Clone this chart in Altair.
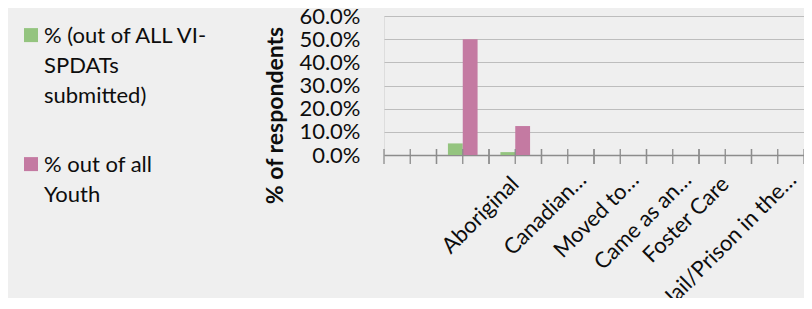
import altair as alt
import pandas as pd

# ---- data ----
categories = ["", " ", "Aboriginal", "Canadian…", "Moved to…", "Came as an…",
              "Foster Care", "Jail/Prison in the…"]
series_names = ["% (out of ALL VI-SPDATs submitted)", "% out of all Youth"]
pct_all_vispdats = [0.0, 0.05, 0.0125, 0.0, 0.0, 0.0, 0.0, 0.0]
pct_all_youth = [0.0, 0.50, 0.125, 0.0, 0.0, 0.0, 0.0, 0.0]
y_tick_values = [0.0, 0.1, 0.2, 0.3, 0.4, 0.5, 0.6]
series_colors = ["#94C47F", "#C47AA2"]

rows = []
for i, c in enumerate(categories):
    rows.append({"category": c, "series": series_names[0], "value": pct_all_vispdats[i]})
    rows.append({"category": c, "series": series_names[1], "value": pct_all_youth[i]})
df = pd.DataFrame(rows)
cat_df = pd.DataFrame({"category": categories})

FONT = "Lato"
TXT = "#0D0D0D"
AXIS_GRAY = "#8C8C8C"
W, H = 420, 139
FS = 22

truncated = "indexof(datum.label, '…') >= 0"

x_scale = alt.Scale(domain=categories, paddingInner=0, paddingOuter=0)
x_axis = alt.Axis(title=None, labelAngle=-45, labelAlign="right",
                  labelBaseline="middle",
                  labelPadding={"condition": {"test": truncated, "value": 21}, "value": 25},
                  labelOffset={"condition": {"test": truncated, "value": 15}, "value": 0},
                  labelFont=FONT, labelFontSize=FS, labelColor=TXT,
                  labelOverlap=False, labelLimit=0,
                  ticks=False, domain=True, domainColor=AXIS_GRAY,
                  domainWidth=1.3, grid=False)

bars = alt.Chart(df).mark_bar().encode(
    x=alt.X("category:N", sort=categories, scale=x_scale, axis=x_axis),
    xOffset=alt.XOffset("series:N", sort=series_names,
                        scale=alt.Scale(paddingInner=0, paddingOuter=0.77)),
    y=alt.Y("value:Q", scale=alt.Scale(domain=[0, 0.6], nice=False),
            axis=alt.Axis(values=y_tick_values, format=".1%", grid=True,
                          gridColor="#BDBDBD", gridWidth=1.2,
                          domain=False, ticks=False, labelPadding=24,
                          labelFont=FONT, labelFontSize=FS, labelColor=TXT,
                          title="% of respondents", titleFont=FONT,
                          titleFontSize=23, titleFontWeight="bold",
                          titleColor=TXT, titleX=-109, titleY=99,
                          titleAlign="center", titleBaseline="middle")),
    color=alt.Color("series:N", sort=series_names,
                    scale=alt.Scale(domain=series_names, range=series_colors),
                    legend=alt.Legend(
                        title=None, orient="none", legendX=-364, legendY=-1,
                        symbolType="M-1,0.3H1V2.3H-1Z", symbolSize=196,
                        symbolStrokeWidth=0, labelFont=FONT, labelFontSize=FS,
                        labelColor=TXT, labelBaseline="top", labelOffset=2,
                        rowPadding=37, padding=0, labelLimit=0,
                        labelExpr="datum.label == '% out of all Youth' ? ['% out of all', 'Youth'] : ['% (out of ALL VI-', 'SPDATs', 'submitted)']")),
)

def tick_layer(bp):
    return alt.Chart(cat_df).mark_rule(color=AXIS_GRAY, strokeWidth=1.3).encode(
        x=alt.X("category:N", sort=categories, scale=x_scale, bandPosition=bp, axis=x_axis),
        y=alt.value(H - 6),
        y2=alt.value(H + 9),
    )

chart = alt.layer(bars, tick_layer(0), tick_layer(0.5), tick_layer(1)).properties(
    width=W, height=H,
    autosize=alt.AutoSizeParams(type="none"),
    padding={"left": 376, "top": 8, "right": 0, "bottom": 143},
    background="#EFEFEF",
).configure_view(fill="white", stroke=None).configure(
    style={"guide-label": {"lineHeight": 30}}
)

chart.save("out.html", embed_options={"renderer": "svg", "actions": False})
